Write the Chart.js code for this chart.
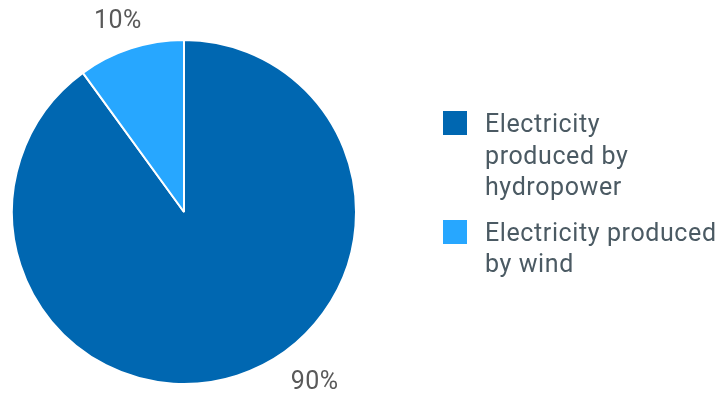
<!DOCTYPE html>
<html>
<head>
<meta charset="utf-8">
<script src="https://cdn.jsdelivr.net/npm/chart.js@4"></script>
<style>
  html, body { margin: 0; padding: 0; background: #fff; }
  #wrap { position: relative; width: 721px; height: 394px; }
  #legend { position: absolute; left: 443px; top: 108px; font-family: Roboto, sans-serif; font-size: 25px; letter-spacing: 0.6px; line-height: 31.5px; color: #4b5a63; }
  .item { display: flex; align-items: flex-start; margin-bottom: 14px; }
  .box { width: 24px; height: 24px; margin-top: 3px; margin-right: 18px; flex: none; }
</style>
</head>
<body>
<div id="wrap">
  <canvas id="grafica" width="721" height="394"></canvas>
  <div id="legend"></div>
</div>
<script>
const categorias = ['Electricity produced by hydropower', 'Electricity produced by wind'];
const lineasLeyenda = [['Electricity', 'produced by', 'hydropower'], ['Electricity produced', 'by wind']];
const valores = [90, 10];
const colores = ['#0067b1', '#27a7ff'];

// etiquetas de porcentaje fuera del pastel
const etiquetas = {
  id: 'etiquetas',
  afterDatasetsDraw(chart, args, opts) {
    const ctx = chart.ctx;
    const meta = chart.getDatasetMeta(0);
    ctx.save();
    ctx.font = '25px Roboto, sans-serif';
    ctx.letterSpacing = '0.5px';
    ctx.fillStyle = '#595959';
    ctx.textAlign = 'center';
    ctx.textBaseline = 'middle';
    meta.data.forEach((arc, i) => {
      const ang = opts.angulos[i] * Math.PI / 180 - Math.PI / 2;
      const r = arc.outerRadius + opts.distancias[i];
      ctx.fillText(valores[i] + '%', arc.x + Math.cos(ang) * r, arc.y + Math.sin(ang) * r);
    });
    ctx.restore();
  }
};

const chart = new Chart(document.getElementById('grafica').getContext('2d'), {
  type: 'pie',
  data: {
    labels: categorias,
    datasets: [{
      data: valores,
      backgroundColor: colores,
      borderColor: '#ffffff',
      borderWidth: 2
    }]
  },
  options: {
    responsive: false,
    animation: false,
    layout: { padding: { left: 11, right: 364, top: 39, bottom: 9 } },
    plugins: {
      legend: { display: false },
      tooltip: { enabled: false },
      etiquetas: { angulos: [142.6, -19.2], distancias: [43, 29] }
    }
  },
  plugins: [etiquetas]
});

// leyenda con saltos de línea
const leyenda = document.getElementById('legend');
categorias.forEach((c, i) => {
  const item = document.createElement('div');
  item.className = 'item';
  item.innerHTML = '<div class="box" style="background:' + colores[i] + '"></div><div>' + lineasLeyenda[i].join('<br>') + '</div>';
  leyenda.appendChild(item);
});
</script>
</body>
</html>
